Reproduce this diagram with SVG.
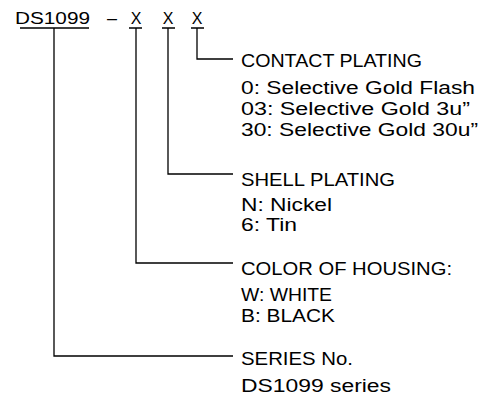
<svg xmlns="http://www.w3.org/2000/svg" width="495" height="398" viewBox="0 0 495 398">
<style>
text{font-family:"Liberation Sans",Arial,sans-serif;fill:#000;}
.t{font-size:17.5px;}
.h{font-size:16px;}
.ln{stroke:#000;stroke-width:1.3;fill:none;}
</style>
<rect width="495" height="398" fill="#fff"/>
<g id="title">
<text class="h" x="15" y="24" textLength="75" lengthAdjust="spacingAndGlyphs">DS1099</text>
<text class="h" x="107" y="24" textLength="10" lengthAdjust="spacingAndGlyphs">–</text>
<text class="h" x="136" y="24" text-anchor="middle">X</text>
<text class="h" x="168" y="24" text-anchor="middle">X</text>
<text class="h" x="197" y="24" text-anchor="middle">X</text>
</g>
<g id="connectors" class="ln">
<path d="M20 28H89M129 28H142M162 28H175M191 28H204"/>
<path d="M197 28V59H233"/>
<path d="M168 28V174H233"/>
<path d="M136 28V263H233"/>
<path d="M54 28V356H233"/>
</g>
<g id="contact-plating">
<text class="t" x="241" y="67" textLength="181" lengthAdjust="spacingAndGlyphs">CONTACT PLATING</text>
<text class="t" x="241" y="94" textLength="234" lengthAdjust="spacingAndGlyphs">0: Selective Gold Flash</text>
<text class="t" x="241" y="115" textLength="229" lengthAdjust="spacingAndGlyphs">03: Selective Gold 3u”</text>
<text class="t" x="241" y="136" textLength="237" lengthAdjust="spacingAndGlyphs">30: Selective Gold 30u”</text>
</g>
<g id="shell-plating">
<text class="t" x="241" y="186" textLength="154" lengthAdjust="spacingAndGlyphs">SHELL PLATING</text>
<text class="t" x="241" y="211" textLength="91" lengthAdjust="spacingAndGlyphs">N: Nickel</text>
<text class="t" x="241" y="231" textLength="56" lengthAdjust="spacingAndGlyphs">6: Tin</text>
</g>
<g id="color-of-housing">
<text class="t" x="241" y="275" textLength="211" lengthAdjust="spacingAndGlyphs">COLOR OF HOUSING:</text>
<text class="t" x="241" y="301" textLength="91" lengthAdjust="spacingAndGlyphs">W: WHITE</text>
<text class="t" x="241" y="322" textLength="94" lengthAdjust="spacingAndGlyphs">B: BLACK</text>
</g>
<g id="series">
<text class="t" x="241" y="365" textLength="112" lengthAdjust="spacingAndGlyphs">SERIES No.</text>
<text class="t" x="241" y="392" textLength="150" lengthAdjust="spacingAndGlyphs">DS1099 series</text>
</g>
</svg>
